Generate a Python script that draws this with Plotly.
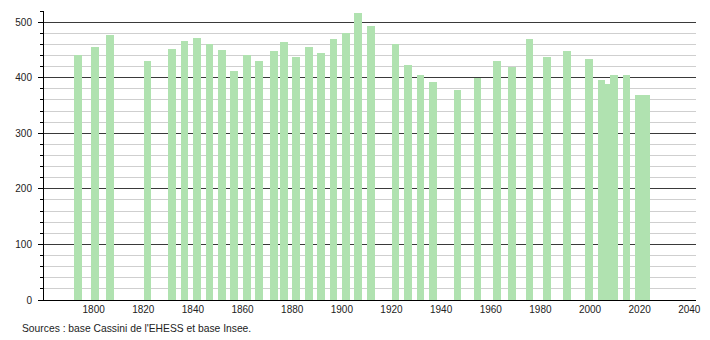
import plotly.graph_objects as go

years = [1793, 1800, 1806, 1821, 1831, 1836, 1841, 1846, 1851, 1856,
         1861, 1866, 1872, 1876, 1881, 1886, 1891, 1896, 1901, 1906,
         1911, 1921, 1926, 1931, 1936, 1946, 1954, 1962, 1968, 1975,
         1982, 1990, 1999, 2004, 2006, 2009, 2014, 2019, 2022]
population = [440, 456, 476, 430, 452, 466, 472, 461, 450, 412,
              440, 430, 448, 464, 438, 455, 445, 470, 480, 517,
              493, 460, 423, 405, 393, 377, 400, 430, 420, 470,
              438, 448, 434, 396, 389, 405, 405, 369, 369]
x_ticks = list(range(1800, 2041, 20))
y_ticks = list(range(0, 501, 100))
source_text = "Sources : base Cassini de l'EHESS et base Insee."

FONT = "Liberation Sans, Arial, sans-serif"

fig = go.Figure()
fig.add_trace(go.Bar(
    x=years, y=population,
    width=3.1, offset=-0.9,
    marker=dict(color="#b0e2b0", line=dict(width=0)),
    hoverinfo="x+y",
))

fig.update_layout(
    width=710, height=340,
    margin=dict(l=44, r=9, t=11, b=40),
    paper_bgcolor="white", plot_bgcolor="white",
    showlegend=False,
    font=dict(family=FONT, size=10, color="#222"),
    bargap=0,
    xaxis=dict(
        range=[1780, 2042.7],
        tickvals=x_ticks,
        ticktext=[str(t) for t in x_ticks],
        showgrid=False, zeroline=False,
        showline=True, linecolor="#000", linewidth=1,
        ticks="", ticklen=0,
        tickfont=dict(family=FONT, size=10, color="#222"),
    ),
    yaxis=dict(
        range=[0, 520],
        tickvals=y_ticks,
        showgrid=True, gridcolor="#3a3a3a", gridwidth=1,
        zeroline=False,
        showline=True, linecolor="#000", linewidth=1,
        ticks="outside", ticklen=5, tickcolor="#000", tickwidth=1,
        tickfont=dict(family=FONT, size=10, color="#222"),
        ticklabelstandoff=4,
        minor=dict(dtick=20, showgrid=True, gridcolor="#cfcfcf", gridwidth=1,
                   ticks="outside", ticklen=3, tickcolor="#000", tickwidth=1),
    ),
    annotations=[dict(
        text=source_text, xref="paper", yref="paper",
        x=-24/657, y=-(329-300.3)/289, xanchor="left", yanchor="middle",
        showarrow=False, font=dict(family=FONT, size=10.3, color="#222"),
    )],
)

fig.write_html("out.html")
